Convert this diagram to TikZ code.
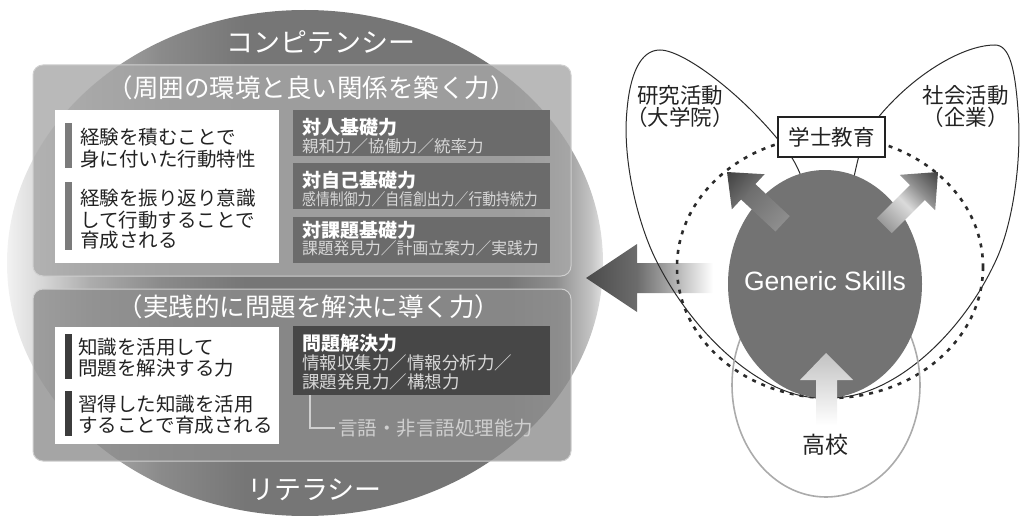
\documentclass[tikz,border=0pt]{standalone}
\usepackage{fontspec}
\usepackage{graphicx}
\setmainfont{Noto Sans CJK JP}
\newfontfamily\latfont{Liberation Sans}
\definecolor{txtdark}{HTML}{222222}
\definecolor{subgray}{HTML}{D8D8D8}
\definecolor{darkbox}{HTML}{6B6B6B}
\definecolor{darkboxB}{HTML}{474747}
\definecolor{barA}{HTML}{7B7B7B}
\definecolor{barB}{HTML}{3C3C3C}
\definecolor{panA}{HTML}{A7A7A7}
\definecolor{panB}{HTML}{8C8C8C}
\definecolor{panBorder}{HTML}{CFCFCF}
\definecolor{gsfill}{HTML}{737373}
\definecolor{lineC}{HTML}{2B2B2B}
\definecolor{koukouC}{HTML}{ABABAB}
\definecolor{langC}{HTML}{CFCFCF}
\definecolor{cA}{HTML}{F2F2F2}
\definecolor{cB}{HTML}{D6D6D6}
\definecolor{cC}{HTML}{ACACAC}
\definecolor{cD}{HTML}{8A8A8A}
\definecolor{cE}{HTML}{767676}
\definecolor{cF}{HTML}{8E8E8E}
\definecolor{cG}{HTML}{C4C4C4}
\definecolor{cH}{HTML}{E2E2E2}
\definecolor{aA}{HTML}{4A4A4A}
\definecolor{aB}{HTML}{6C6C6C}
\definecolor{aC}{HTML}{A8A8A8}
\definecolor{upA}{HTML}{C2C2C2}
\definecolor{diagTip}{HTML}{404040}
\definecolor{diagTailL}{HTML}{8E8E8E}
\definecolor{diagTailR}{HTML}{999999}
\definecolor{diagMidR}{HTML}{DADADA}
\pgfdeclarehorizontalshading{bigcircshade}{100bp}{color(0bp)=(cA); color(25bp)=(cA); color(28bp)=(cB); color(32bp)=(cC); color(38bp)=(cD); color(45bp)=(cE); color(67bp)=(cE); color(71bp)=(cF); color(74bp)=(cG); color(75bp)=(cH); color(100bp)=(cH)}
\pgfdeclarehorizontalshading{bigarrowshade}{100bp}{color(0bp)=(aA); color(25bp)=(aA); color(45bp)=(aB); color(58bp)=(aC); color(75bp)=(white); color(100bp)=(white)}
\pgfdeclarehorizontalshading{diagL}{100bp}{color(0bp)=(diagTailL); color(25bp)=(diagTailL); color(55bp)=(diagTailL!60!diagTip); color(75bp)=(diagTip); color(100bp)=(diagTip)}
\pgfdeclarehorizontalshading{diagR}{100bp}{color(0bp)=(diagTailR); color(25bp)=(diagTailR); color(45bp)=(diagMidR); color(58bp)=(diagMidR!50!diagTip); color(75bp)=(diagTip); color(100bp)=(diagTip)}
\tikzset{
  panelup/.style={fill=panA, fill opacity=0.8, draw=panBorder, line width=1pt, rounded corners=10pt},
  paneldown/.style={fill=panB, fill opacity=0.78, draw=panBorder, line width=1pt, rounded corners=10pt},
  whitebox/.style={fill=white},
  darkrect/.style={fill=darkbox},
  darkrectB/.style={fill=darkboxB},
  wtxt/.style={anchor=base west, inner sep=0pt, text=txtdark, font=\fontsize{19.5}{22}\selectfont},
  hdr/.style={anchor=base west, inner sep=0pt, text=white, font=\bfseries\fontsize{19}{22}\selectfont},
  subtxt/.style={anchor=base west, inner sep=0pt, text=subgray, font=\fontsize{16.5}{19}\selectfont},
  subtxtB/.style={anchor=base west, inner sep=0pt, text=subgray, font=\fontsize{17.5}{20}\selectfont},
  bigtitle/.style={anchor=base, inner sep=0pt, text=white, font=\fontsize{27}{30}\selectfont},
  pantitle/.style={anchor=base, inner sep=0pt, text=white, font=\fontsize{25.5}{28}\selectfont},
  rlbl/.style={inner sep=0pt, text=txtdark, align=center, font=\fontsize{21.5}{19.5}\selectfont},
  loopline/.style={draw=lineC, line width=1pt},
  dashline/.style={draw=lineC, line width=2.6pt, dash pattern=on 4pt off 6pt},
  conn/.style={draw=langC, line width=1.2pt}
}
\begin{document}
\begin{tikzpicture}[x=1pt,y=-1pt]
\useasboundingbox (0,0) rectangle (1020,516);
% big circle
\shade[shading=bigcircshade] (305,263) ellipse [x radius=298, y radius=253];
\node[bigtitle] (komp) at (321,53) {コンピテンシー};
\node[bigtitle] (lit) at (314.5,499) {リテラシー};
% panels
\path[panelup] (33,65) rectangle (571,276);
\path[paneldown] (33,289) rectangle (571,461);
\node[pantitle] (t1) at (311.5,97.5) {（周囲の環境と良い関係を築く力）};
\node[pantitle] (t2) at (309,316) {（実践的に問題を解決に導く力）};
% upper white box
\fill[whitebox] (55,110) rectangle (279,263);
\fill[barA] (65,123) rectangle (72,168);
\fill[barA] (65,182) rectangle (72,250);
\node[wtxt] (u1) at (80,144.4) {経験を積むことで};
\node[wtxt] (u2) at (80,166.4) {身に付いた行動特性};
\node[wtxt] (u3) at (80,205.4) {経験を振り返り意識};
\node[wtxt] (u4) at (80,227.4) {して行動することで};
\node[wtxt] (u5) at (80,247.4) {育成される};
% upper dark boxes
\fill[darkrect] (293,110) rectangle (550,156);
\fill[darkrect] (293,163) rectangle (550,209);
\fill[darkrect] (293,217) rectangle (550,263);
\node[hdr] (h1) at (302,134.2) {対人基礎力};
\node[subtxt] (s1) at (302,152.3) {親和力／協働力／統率力};
\node[hdr] (h2) at (302,187.2) {対自己基礎力};
\node[subtxt] (s2) at (302,205.3) {\scalebox{0.84}[1]{感情制御力／自信創出力／行動持続力}};
\node[hdr] (h3) at (302,237.2) {対課題基礎力};
\node[subtxt] (s3) at (302,254.3) {\scalebox{0.955}[1]{課題発見力／計画立案力／実践力}};
% lower white box
\fill[whitebox] (55,327) rectangle (279,444);
\fill[barB] (65,334) rectangle (72,379);
\fill[barB] (65,391) rectangle (72,436);
\node[wtxt] (l1) at (78,354.4) {知識を活用して};
\node[wtxt] (l2) at (78,375.4) {問題を解決する力};
\node[wtxt] (l3) at (78,411.4) {習得した知識を活用};
\node[wtxt] (l4) at (78,432.4) {することで育成される};
% lower dark box
\fill[darkrectB] (293,326) rectangle (550,395);
\node[hdr] (h4) at (302,350.2) {問題解決力};
\node[subtxtB] (s4) at (302,369.6) {情報収集力／情報分析力／};
\node[subtxtB] (s5) at (302,388.6) {課題発見力／構想力};
\coordinate (pstem) at (310,395);
\node[anchor=base west, inner sep=0pt, text=langC, font=\fontsize{19.5}{22}\selectfont] (lang) at (338,435.4) {言語・非言語処理能力};
\draw[conn] (pstem) |- ([xshift=-3pt]lang.west);
% big left arrow
\shade[shading=bigarrowshade] (586,278) -- (637,244) -- (637,263) -- (713,263) -- (713,293) -- (637,293) -- (637,312) -- cycle;
% loops
\draw[loopline] (823,398) .. controls (760,399) and (690,330) .. (655,258)
  .. controls (638,223) and (622,160) .. (627,110)
  .. controls (630,75) and (640,50) .. (660,50)
  .. controls (685,50) and (750,100) .. (790,155)
  .. controls (820,196) and (830,330) .. (823,398);
\draw[loopline] (829,398) .. controls (895,399) and (965,330) .. (997,258)
  .. controls (1013,222) and (1022,160) .. (1018,110)
  .. controls (1015,70) and (1010,45) .. (995,45)
  .. controls (960,45) and (905,80) .. (870,128)
  .. controls (850,155) and (835,300) .. (829,398);
% dashed ellipse
\draw[dashline] (830,267) ellipse [x radius=153, y radius=131];
% koukou ellipse
\draw[draw=koukouC, line width=1.6pt] (826,385) ellipse [x radius=94, y radius=112];
% generic skills
\fill[gsfill] (825,284) ellipse [x radius=97, y radius=114];
\node[font=\latfont\fontsize{26.5}{28}\selectfont, text=white, inner sep=0pt] (gs) at (825,281) {Generic Skills};
% up arrow
\shade[top color=upA, bottom color=white] (826,353) -- (853,380) -- (837,380) -- (837,425) -- (816,425) -- (816,380) -- (800,380) -- cycle;
% diagonal arrows
\begin{scope}[transform canvas={shift={(727,172)}, rotate=137}]
\shade[shading=diagL] (0,0) -- (-29,24) -- (-29,10.5) -- (-76,10.5) -- (-76,-10.5) -- (-29,-10.5) -- (-29,-24) -- cycle;
\end{scope}
\begin{scope}[transform canvas={shift={(938,172)}, rotate=45}]
\shade[shading=diagR] (0,0) -- (-29,25) -- (-29,10.5) -- (-76,10.5) -- (-76,-10.5) -- (-29,-10.5) -- (-29,-25) -- cycle;
\end{scope}
% gakushi box
\node[draw=txtdark, line width=1.8pt, fill=white, minimum width=107pt, minimum height=40pt, inner sep=0pt, font=\fontsize{21.5}{23}\selectfont, text=txtdark] (gaku) at (831.5,137) {学士教育};
% labels
\node[rlbl] (ken) at (680,106.5) {研究活動\\（大学院）};
\node[rlbl] (sha) at (965.5,106.5) {社会活動\\（企業）};
\node[anchor=base, inner sep=0pt, text=txtdark, font=\fontsize{23}{25}\selectfont] (kou) at (825,453.7) {高校};
\end{tikzpicture}
\end{document}
